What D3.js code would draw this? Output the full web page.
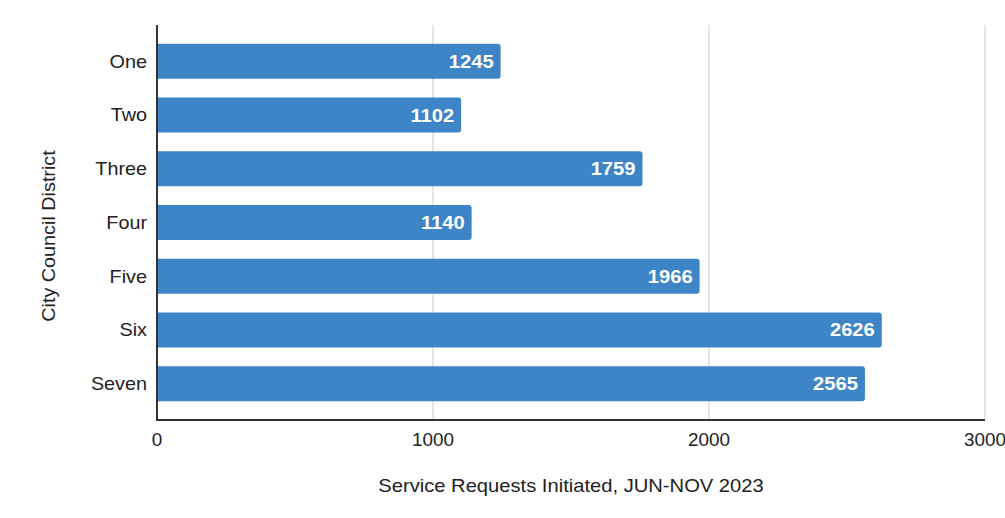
<!DOCTYPE html>
<html><head><meta charset="utf-8">
<script src="https://cdn.jsdelivr.net/npm/d3@7"></script>
<style>body{margin:0;background:#fff;}svg{display:block;}</style>
</head><body>
<svg id="c" width="1005" height="518"></svg>
<script>
const categories = ["One","Two","Three","Four","Five","Six","Seven"];
const values = [1245,1102,1759,1140,1966,2626,2565];
const xTicks = [0,1000,2000,3000];
const xTitle = "Service Requests Initiated, JUN-NOV 2023";
const yTitle = "City Council District";

const svg = d3.select("#c");
const L = 157, R = 985, T = 25, B = 420;
const x = d3.scaleLinear().domain([0,3000]).range([L,R]);
const y = d3.scaleBand().domain(categories).range([T,B]).paddingInner(0.35).paddingOuter(0.35);
const font = "Liberation Sans, Arial, sans-serif";

// gridlines
svg.append("g").selectAll("line").data(xTicks.filter(d=>d>0)).join("line")
  .attr("x1",d=>x(d)).attr("x2",d=>x(d)).attr("y1",T).attr("y2",B)
  .attr("stroke","#cccccc").attr("stroke-width",1);

// bars
const data = categories.map((c,i)=>({c, v: values[i]}));
svg.append("g").selectAll("path").data(data).join("path")
  .attr("d", d=>{
    const x0 = x(0), x1 = x(d.v), y0 = y(d.c), h = y.bandwidth(), r = 3;
    return `M${x0},${y0}H${x1-r}Q${x1},${y0} ${x1},${y0+r}V${y0+h-r}Q${x1},${y0+h} ${x1-r},${y0+h}H${x0}Z`;
  })
  .attr("fill","#3d85c6");

// bar labels
svg.append("g").selectAll("text").data(data).join("text")
  .attr("transform", d=>`translate(${x(d.v)-7},${y(d.c)+y.bandwidth()/2}) scale(1.12,1)`)
  .attr("dy","0.36em").attr("text-anchor","end")
  .attr("fill","#fff").attr("font-family",font).attr("font-weight","bold")
  .attr("font-size","18px").text(d=>d.v);

// y axis labels
svg.append("g").selectAll("text").data(categories).join("text")
  .attr("transform", d=>`translate(${L-10},${y(d)+y.bandwidth()/2}) scale(1.1,1)`)
  .attr("dy","0.35em").attr("text-anchor","end")
  .attr("font-family",font).attr("font-size","18px").attr("fill","#222").text(d=>d);
svg.append("line").attr("x1",L).attr("x2",L).attr("y1",T).attr("y2",B+1)
  .attr("stroke","#333").attr("stroke-width",2);

// x axis labels
svg.append("g").selectAll("text").data(xTicks).join("text")
  .attr("transform", d=>`translate(${x(d)},446) scale(1.05,1)`)
  .attr("text-anchor","middle")
  .attr("font-family",font).attr("font-size","18px").attr("fill","#222").text(d=>d3.format("d")(d));
svg.append("line").attr("x1",L-1).attr("x2",R).attr("y1",B).attr("y2",B)
  .attr("stroke","#333").attr("stroke-width",2);

// titles
svg.append("text").attr("transform","translate(571,492) scale(1.12,1)").attr("text-anchor","middle")
  .attr("font-family",font).attr("font-size","18px").attr("fill","#222").text(xTitle);
svg.append("text").attr("transform","translate(55,236) rotate(-90) scale(1.1,1)").attr("text-anchor","middle")
  .attr("font-family",font).attr("font-size","18px").attr("fill","#222").text(yTitle);
</script>
</body></html>
